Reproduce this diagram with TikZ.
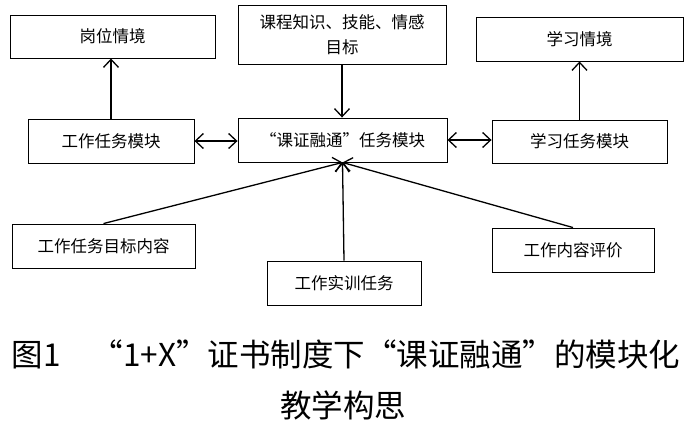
\documentclass[tikz,border=0pt]{standalone}
\usepackage{fontspec}
\setmainfont{Noto Sans CJK SC}
\usetikzlibrary{arrows.meta}

\begin{document}
\begin{tikzpicture}[x=1pt,y=-1pt,
  box/.style={draw,line width=0.9pt,inner sep=0pt,align=center,
    font=\fontsize{16.5}{25}\selectfont},
  link/.style={line width=1.3pt,-{Straight Barb[length=8pt,width=15pt]}},
  both/.style={line width=1.3pt,{Straight Barb[length=8pt,width=15pt]}-{Straight Barb[length=8pt,width=15pt]}}]
\useasboundingbox (0,0) rectangle (693,421);

% top row
\node[box,minimum width=205pt,minimum height=43pt] (jobscene) at (112.5,36.5) {岗位情境};
\node[box,minimum width=208pt,minimum height=59pt] (aims) at (342,34.5) {课程知识、技能、情感\\目标};
\node[box,minimum width=207pt,minimum height=44pt] (studyscene) at (579.5,39) {学习情境};

% middle row
\node[box,minimum width=166pt,minimum height=44pt] (jobmod) at (111,141) {工作任务模块};
\node[box,minimum width=209pt,minimum height=44pt] (core) at (342.5,140) {“课证融通”任务模块};
\node[box,minimum width=175pt,minimum height=43pt] (studymod) at (579.5,141.5) {学习任务模块};

% bottom row
\node[box,minimum width=183pt,minimum height=44pt] (goal) at (103.5,246) {工作任务目标内容};
\node[box,minimum width=154pt,minimum height=44pt] (practice) at (344,283) {工作实训任务};
\node[box,minimum width=162pt,minimum height=44pt] (review) at (573,250) {工作内容评价};

\draw[link] (jobmod.north) -- (jobmod.north |- jobscene.south);
\draw[link] (aims.south) -- (aims.south |- core.north);
\draw[link] (studymod.north) -- (studymod.north |- studyscene.south);
\draw[both] (jobmod.east) -- (jobmod.east -| core.west);
\draw[both] (core.east) -- (core.east -| studymod.west);

\draw[link] (goal.north) -- (core.south);
\draw[link] (practice.north) -- (core.south);
\draw[link] (review.north) -- (core.south);

% caption
\node[font=\fontsize{31.5}{38}\selectfont] (cap1) at (346,354) {图1\quad“1+X”证书制度下“课证融通”的模块化};
\node[font=\fontsize{31.5}{38}\selectfont] (cap2) at (343,405) {教学构思};
\end{tikzpicture}
\end{document}
